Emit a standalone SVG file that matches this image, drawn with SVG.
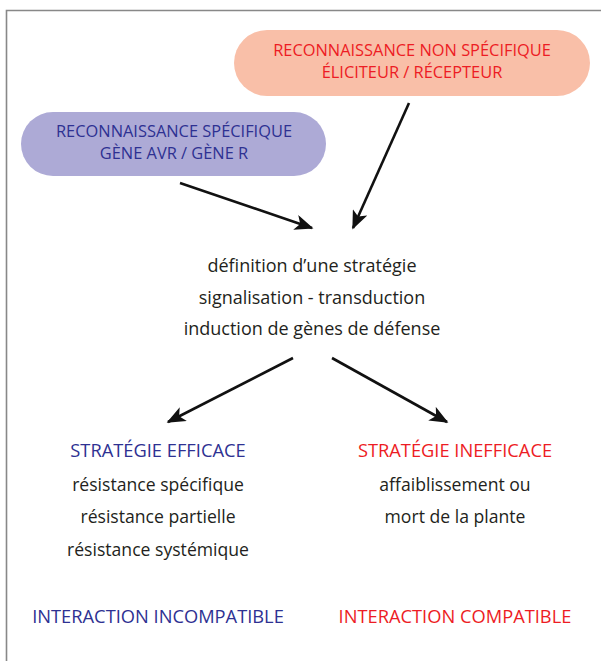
<svg xmlns="http://www.w3.org/2000/svg" width="601" height="661" viewBox="0 0 601 661">
<style>
text{font-family:"Open Sans","Liberation Sans",sans-serif;text-anchor:middle}
.cap{font-size:16.4px}
.mid{font-size:18px;fill:#231f20}
.body{font-size:17.6px;fill:#231f20}
.head{font-size:18.3px}
.blue{fill:#2e3192}
.red{fill:#ed1c24}
.conn{stroke:#111;stroke-width:2.6;fill:none;marker-end:url(#ah)}
</style>
<defs>
<marker id="ah" viewBox="0 0 12 10" refX="11" refY="5" markerWidth="7.5" markerHeight="6" markerUnits="strokeWidth" orient="auto">
<path d="M0,0 L12,5 L0,10 L3,5 Z" fill="#111"/>
</marker>
</defs>
<rect width="601" height="661" fill="#fff"/>
<path d="M6.5,661 V10.5 H601" fill="none" stroke="#888" stroke-width="1.6"/>
<g id="nonspecifique">
<rect x="234" y="30" width="356" height="66" rx="33" fill="#f9bfa8"/>
<text class="cap red" x="412" y="56">RECONNAISSANCE NON SPÉCIFIQUE</text>
<text class="cap red" x="412" y="78">ÉLICITEUR / RÉCEPTEUR</text>
</g>
<g id="specifique">
<rect x="21" y="112" width="305" height="64" rx="32" fill="#adaad6"/>
<text class="cap blue" x="174" y="137">RECONNAISSANCE SPÉCIFIQUE</text>
<text class="cap blue" x="174" y="159">GÈNE AVR / GÈNE R</text>
</g>
<g id="strategie">
<text class="mid" x="312" y="272">définition d’une stratégie</text>
<text class="mid" x="312" y="304">signalisation - transduction</text>
<text class="mid" x="312" y="335">induction de gènes de défense</text>
</g>
<g id="efficace">
<text class="head blue" x="158" y="457">STRATÉGIE EFFICACE</text>
<text class="body" x="158" y="491">résistance spécifique</text>
<text class="body" x="158" y="523">résistance partielle</text>
<text class="body" x="158" y="556">résistance systémique</text>
</g>
<g id="inefficace">
<text class="head red" x="455" y="457">STRATÉGIE INEFFICACE</text>
<text class="body" x="455" y="491">affaiblissement ou</text>
<text class="body" x="455" y="523">mort de la plante</text>
</g>
<g id="incompatible">
<text class="head blue" x="158" y="623">INTERACTION INCOMPATIBLE</text>
</g>
<g id="compatible">
<text class="head red" x="455" y="623">INTERACTION COMPATIBLE</text>
</g>
<g id="connectors">
<line class="conn" x1="180" y1="183" x2="312" y2="228"/>
<line class="conn" x1="409" y1="103" x2="353" y2="228"/>
<line class="conn" x1="293" y1="358" x2="168" y2="422"/>
<line class="conn" x1="332" y1="358" x2="447" y2="422"/>
</g>
</svg>
